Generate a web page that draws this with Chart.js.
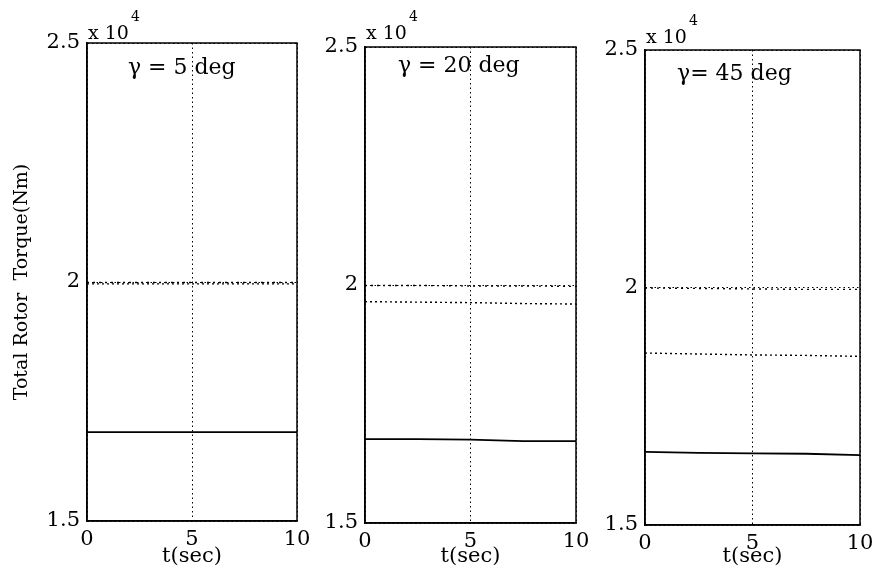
<!DOCTYPE html>
<html>
<head>
<meta charset="utf-8">
<script src="https://cdn.jsdelivr.net/npm/chart.js@4.4.1/dist/chart.umd.min.js"></script>
<style>
  html, body { margin: 0; padding: 0; background: #ffffff; }
  #wrap { position: relative; width: 878px; height: 575px; background: #ffffff; overflow: hidden; }
  canvas { position: absolute; top: 0; }
</style>
</head>
<body>
<div id="wrap">
  <canvas id="c1" width="321" height="575" style="left:0px"></canvas>
  <canvas id="c2" width="288" height="575" style="left:312px"></canvas>
  <canvas id="c3" width="292" height="575" style="left:592px"></canvas>
</div>
<script>
// ---- data (torque in units of x10^4 Nm) ----
const timeSec = [0, 2.5, 5, 7.5, 10];
const xTicks = [0, 5, 10];
const yTicks = [1.5, 2, 2.5];
const panelTitles = ['γ = 5 deg', 'γ = 20 deg', 'γ= 45 deg'];

// upper dotted curve (near 2.0)
const upper5  = [1.999, 1.999, 1.999, 1.999, 1.999];
const upper20 = [1.999, 1.999, 1.998, 1.998, 1.997];
const upper45 = [1.999, 1.998, 1.997, 1.996, 1.996];
// middle dotted curve
const mid5  = [1.996, 1.996, 1.996, 1.996, 1.996];
const mid20 = [1.965, 1.964, 1.963, 1.961, 1.960];
const mid45 = [1.862, 1.860, 1.858, 1.857, 1.855];
// solid curve
const solid5  = [1.686, 1.686, 1.686, 1.686, 1.686];
const solid20 = [1.676, 1.676, 1.675, 1.672, 1.672];
const solid45 = [1.654, 1.652, 1.651, 1.650, 1.647];

const FONT = "'DejaVu Serif', serif";

function pts(ys) { return timeSec.map((t, i) => ({ x: t, y: ys[i] })); }

function makePanel(id, title, upper, mid, solid, lay) {
  const annot = {
    id: 'annot_' + id,
    afterDraw(chart) {
      const { ctx, chartArea: a, scales } = chart;
      ctx.save();
      // axes box
      ctx.strokeStyle = '#000';
      ctx.lineWidth = 1.5;
      ctx.setLineDash([]);
      ctx.strokeRect(a.left, a.top, a.right - a.left, a.bottom - a.top);
      // exponent label
      ctx.fillStyle = '#000';
      ctx.textAlign = 'left';
      ctx.textBaseline = 'alphabetic';
      ctx.font = '19px ' + FONT;
      const base = 'x 10';
      ctx.fillText(base, a.left + 1, a.top - lay.expDy);
      const w = ctx.measureText(base).width;
      ctx.font = '14px ' + FONT;
      ctx.fillText('4', a.left + 3 + w, a.top - lay.expDy - 18);
      // panel title inside axes
      ctx.font = '22px ' + FONT;
      ctx.fillText(title, scales.x.getPixelForValue(lay.titleX), a.top + lay.titleDy);
      ctx.restore();
    }
  };
  return new Chart(document.getElementById(id), {
    type: 'line',
    data: {
      datasets: [
        { data: pts(upper), borderColor: '#000', borderWidth: 1.4, borderDash: [2, 4], pointRadius: 0, fill: false },
        { data: pts(mid),   borderColor: '#000', borderWidth: 1.4, borderDash: [2, 3], pointRadius: 0, fill: false },
        { data: pts(solid), borderColor: '#000', borderWidth: 1.8, pointRadius: 0, fill: false }
      ]
    },
    options: {
      responsive: false,
      animation: false,
      devicePixelRatio: 1,
      layout: { padding: { left: 0, top: lay.top, right: 24, bottom: 0 } },
      plugins: { legend: { display: false }, tooltip: { enabled: false }, title: { display: false } },
      elements: { line: { tension: 0 } },
      scales: {
        x: {
          type: 'linear', min: 0, max: 10,
          afterBuildTicks(s) { s.ticks = xTicks.map(v => ({ value: v })); },
          afterFit(s) { s.height = lay.xH; },
          ticks: { color: '#000', font: { family: FONT, size: 21 }, padding: 6, maxRotation: 0 },
          grid: { color: '#000', lineWidth: 1, drawTicks: false },
          border: { display: true, color: '#000', width: 1.5, dash: [1.5, 3] },
          title: { display: true, text: 't(sec)', color: '#000', font: { family: FONT, size: 21 }, padding: { top: 0, bottom: 6 } }
        },
        y: {
          type: 'linear', min: 1.5, max: 2.5,
          afterBuildTicks(s) { s.ticks = yTicks.map(v => ({ value: v })); },
          afterFit(s) { s.width = lay.yW; },
          ticks: { color: '#000', font: { family: FONT, size: 21 }, padding: 7, callback: v => String(v) },
          grid: { color: '#000', lineWidth: 1, drawTicks: false },
          border: { display: true, color: '#000', width: 1.5, dash: [1.5, 3] },
          title: { display: lay.yTitle, text: 'Total Rotor  Torque(Nm)', color: '#000', font: { family: FONT, size: 19 }, padding: { top: 11, bottom: 0 } }
        }
      }
    },
    plugins: [annot]
  });
}

const charts = [
  makePanel('c1', panelTitles[0], upper5, mid5, solid5,
    { top: 43, yW: 87, xH: 54, yTitle: true, expDy: 4, titleX: 1.95, titleDy: 31 }),
  makePanel('c2', panelTitles[1], upper20, mid20, solid20,
    { top: 47, yW: 53, xH: 52, yTitle: false, expDy: 8, titleX: 1.56, titleDy: 25 }),
  makePanel('c3', panelTitles[2], upper45, mid45, solid45,
    { top: 50, yW: 53, xH: 50, yTitle: false, expDy: 7, titleX: 1.49, titleDy: 30 })
];
</script>
</body>
</html>
